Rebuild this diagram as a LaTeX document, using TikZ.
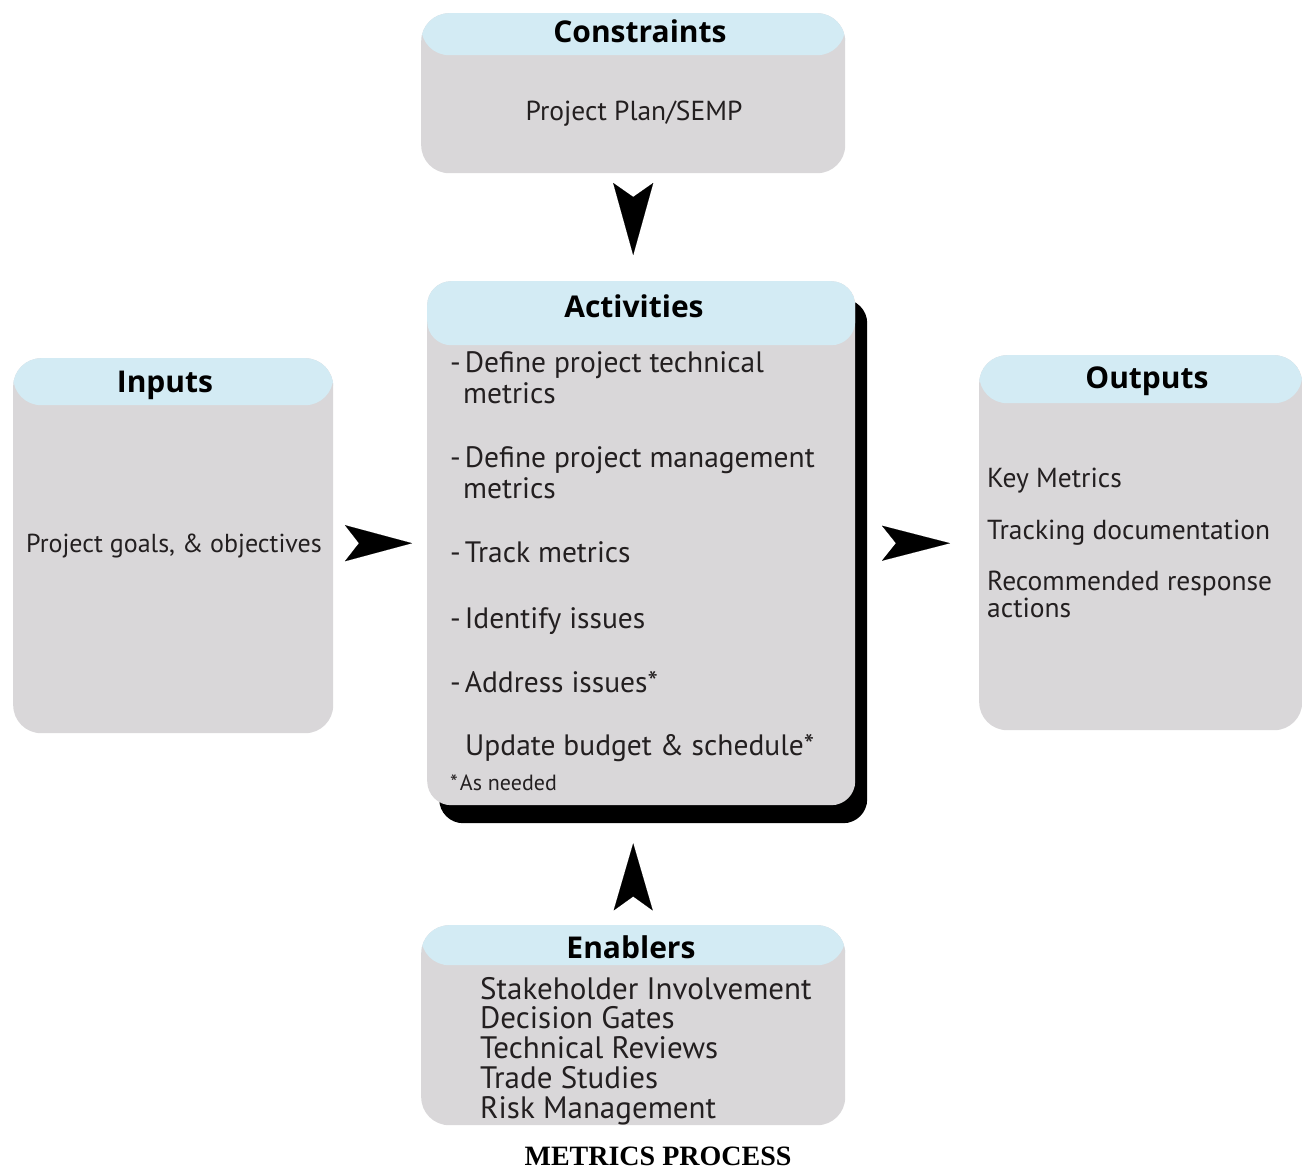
\documentclass[tikz,border=0pt]{standalone}
\usepackage{fontspec}
\setmainfont{PT Sans}
\newfontfamily\headfont{Open Sans}
\newfontfamily\titlefont{Liberation Serif}
\usetikzlibrary{arrows.meta,shadows}
\definecolor{hdrblue}{HTML}{D3EBF4}
\definecolor{bodygray}{HTML}{D9D7D9}
\definecolor{ink}{HTML}{231F20}
\begin{document}
\begin{tikzpicture}[x=1pt,y=-1pt,
  panel/.style={rectangle, rounded corners=28pt, fill=bodygray, inner sep=0pt, anchor=north west},
  hdr/.style={path picture={\fill[hdrblue] (path picture bounding box.north west) rectangle ([yshift=-#1]path picture bounding box.north east);}},
  head/.style={inner sep=0pt, anchor=base, text=black, font=\fontsize{30}{32}\headfont\bfseries},
  item/.style={inner sep=0pt, anchor=base west, text=ink, font=\fontsize{29.5}{31}\selectfont},
  outitem/.style={item, font=\fontsize{27.5}{29}\selectfont},
  enbitem/.style={item, font=\fontsize{31}{32}\selectfont},
  note/.style={item, font=\fontsize{22}{24}\selectfont},
  dart/.style={draw=white, line width=0.1pt}
]
\useasboundingbox (0,0) rectangle (1302,1171);

% panels
\node[panel, minimum width=424pt, minimum height=160pt, hdr=42pt] (con) at (421,13) {};
\node[panel, rounded corners=24pt, minimum width=428pt, minimum height=524pt, hdr=64pt,
      general shadow={fill=black, shadow xshift=12pt, shadow yshift=-18pt}] (act) at (427,281) {};
\node[panel, minimum width=320pt, minimum height=375pt, hdr=47pt] (inp) at (13,358) {};
\node[panel, minimum width=323pt, minimum height=375pt, hdr=48pt] (out) at (979,355) {};
\node[panel, minimum width=424pt, minimum height=200pt, hdr=40pt] (enb) at (421,925) {};

% headings
\node[head] (conH) at (640,42) {Constraints};
\node[head] (actH) at (634,317) {Activities};
\node[head] (inpH) at (165,392) {Inputs};
\node[head] (outH) at (1147,388) {Outputs};
\node[head] (enbH) at (631,958) {Enablers};

% constraints
\node[item, anchor=base, font=\fontsize{27.5}{29}\selectfont] (conT) at (634,120) {Project Plan/SEMP};

% activities
\node[item] (a1) at (450,372) {-\kern4pt Define project technical};
\node[item] (a1b) at (463,403) {metrics};
\node[item] (a2) at (450,467) {-\kern4pt Define project management};
\node[item] (a2b) at (463,498) {metrics};
\node[item] (a3) at (450,562) {-\kern4pt Track metrics};
\node[item] (a4) at (450,628) {-\kern4pt Identify issues};
\node[item] (a5) at (450,692) {-\kern4pt Address issues*};
\node[item] (a6) at (465,755) {Update budget \& schedule*};
\node[note] (a7) at (450,790) {*\kern2pt As needed};

% inputs
\node[item, anchor=base, font=\fontsize{26}{28}\selectfont] (inpT) at (174,552) {Project goals, \& objectives};

% outputs
\node[outitem] (o1) at (987,487) {Key Metrics};
\node[outitem] (o2) at (987,539) {Tracking documentation};
\node[outitem] (o3) at (987,590) {Recommended response};
\node[outitem] (o3b) at (987,617) {actions};

% enablers
\node[enbitem] (e1) at (480,999) {Stakeholder Involvement};
\node[enbitem] (e2) at (480,1028) {Decision Gates};
\node[enbitem] (e3) at (480,1058) {Technical Reviews};
\node[enbitem] (e4) at (480,1088) {Trade Studies};
\node[enbitem] (e5) at (480,1118) {Risk Management};

% caption
\node[inner sep=0pt, anchor=base, font=\fontsize{28}{30}\titlefont\bfseries] (cap) at (658,1165) {METRICS PROCESS};

% flow darts
\draw[dart, -{Stealth[color=black, fill=black, length=72pt, width=40pt, inset=14pt]}, shorten <=10pt, shorten >=26pt]
  (con.south) -- (con.south |- act.north);
\draw[dart, -{Stealth[color=black, fill=black, length=67pt, width=36pt, inset=14pt]}, shorten <=12pt, shorten >=15pt]
  (inp.east |- act.east) -- (act.west);
\draw[dart, -{Stealth[color=black, fill=black, length=68pt, width=35pt, inset=14pt]}, shorten <=27pt, shorten >=29pt]
  (act.east) -- (act.east -| out.west);
\draw[dart, -{Stealth[color=black, fill=black, length=67pt, width=39pt, inset=14pt]}, shorten <=15pt, shorten >=38pt]
  (enb.north) -- (enb.north |- act.south);
\end{tikzpicture}
\end{document}
